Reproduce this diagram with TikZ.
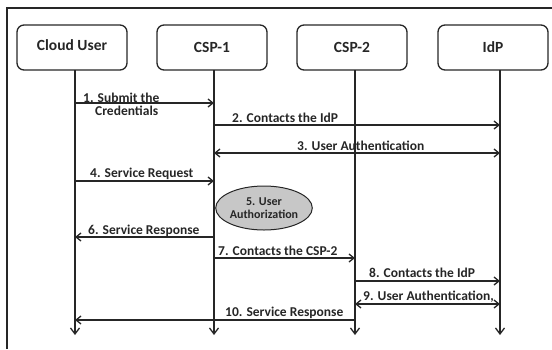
\documentclass[tikz,border=0pt]{standalone}
\usepackage{fontspec}
\setmainfont{Carlito}
\usetikzlibrary{arrows.meta,shapes.geometric}

\begin{document}
\begin{tikzpicture}[x=1pt,y=-1pt,
  ink/.style={draw=black!85, line width=1.3pt},
  actor/.style={ink, rounded corners=7pt, minimum width=110pt, minimum height=45pt,
    inner sep=0pt, font=\fontsize{15.5}{18}\selectfont\bfseries, text=black!85},
  life/.style={ink, -{Straight Barb[length=6pt,width=9pt]}},
  msg/.style={ink, -{Straight Barb[length=5pt,width=8pt]}},
  dmsg/.style={ink, {Straight Barb[length=5pt,width=8pt]}-{Straight Barb[length=5pt,width=8pt]}},
  lbl/.style={font=\fontsize{13.5}{16}\selectfont\bfseries, inner sep=0pt,
    anchor=base west, text=black!85},
]
\useasboundingbox (0,0) rectangle (552,349);

% outer frame (left and top edges)
\draw[line width=1.5pt, black!85] (7,349) -- (7,8) -- (552,8);

% participants
\node[actor] (user) at (72,47.5) {\raisebox{4pt}{Cloud User}};
\node[actor] (csp1) at (212,47.5) {CSP-1};
\node[actor] (csp2) at (352,47.5) {CSP-2};
\node[actor] (idp)  at (493,47.5) {IdP};

% lifelines
\coordinate (uTop) at (75,70);   \coordinate (uEnd) at (75,335);
\coordinate (cTop) at (214,70);  \coordinate (cEnd) at (214,335);
\coordinate (sTop) at (355,70);  \coordinate (sEnd) at (355,335);
\coordinate (iTop) at (500,70);  \coordinate (iEnd) at (500,335);
\draw[life] (uTop) -- (uEnd);
\draw[life] (cTop) -- (cEnd);
\draw[life] (sTop) -- (sEnd);
\draw[life] (iTop) -- (iEnd);

% message end points on the lifelines
\coordinate (u1) at (75,103);   \coordinate (c1) at (214,103);
\coordinate (c2) at (214,125);  \coordinate (i2) at (500,125);
\coordinate (i3) at (500,153);  \coordinate (c3) at (214,153);
\coordinate (u4) at (75,181);   \coordinate (c4) at (214,181);
\coordinate (c6) at (214,237);  \coordinate (u6) at (75,237);
\coordinate (c7) at (214,258);  \coordinate (s7) at (355,258);
\coordinate (s8) at (355,281);  \coordinate (i8) at (500,281);
\coordinate (s9) at (355,304);  \coordinate (i9) at (500,304);
\coordinate (s10) at (355,320); \coordinate (u10) at (75,320);

% messages
\draw[msg]  (u1) -- (c1);
\draw[msg]  (c2) -- (i2);
\draw[dmsg] (i3) -- (c3);
\draw[msg]  (u4) -- (c4);
\draw[msg]  (c6) -- (u6);
\draw[msg]  (c7) -- (s7);
\draw[msg]  (s8) -- (i8);
\draw[dmsg] (s9) -- (i9);
\draw[msg]  (s10) -- (u10);

% message labels
\node[lbl] (l1a) at (83,102)  {1. Submit the};
\node[lbl] (l1b) at (95,115)  {Credentials};
\node[lbl] (l2)  at (232,122) {2. Contacts the IdP};
\node[lbl] (l3)  at (297,150) {3. User Authentication};
\node[lbl] (l4)  at (90,177)  {4. Service Request};
\node[lbl] (l6)  at (88,234)  {6. Service Response};
\node[lbl] (l7)  at (218,255) {7. Contacts the CSP-2};
\node[lbl] (l8)  at (369,277) {8. Contacts the IdP};
\node[lbl] (l9)  at (363,300.5) {9. User Authentication,};
\node[lbl] (l10) at (225,316.5) {10. Service Response};

% local step on CSP-1
\node[ellipse, draw=black!85, line width=1pt, fill=black!22, minimum width=88pt,
  minimum height=44pt, inner sep=0pt, align=center, text=black!85,
  font=\fontsize{12}{13}\selectfont\bfseries] (authz) at (264,208) {5. User\\Authorization};
\end{tikzpicture}
\end{document}
